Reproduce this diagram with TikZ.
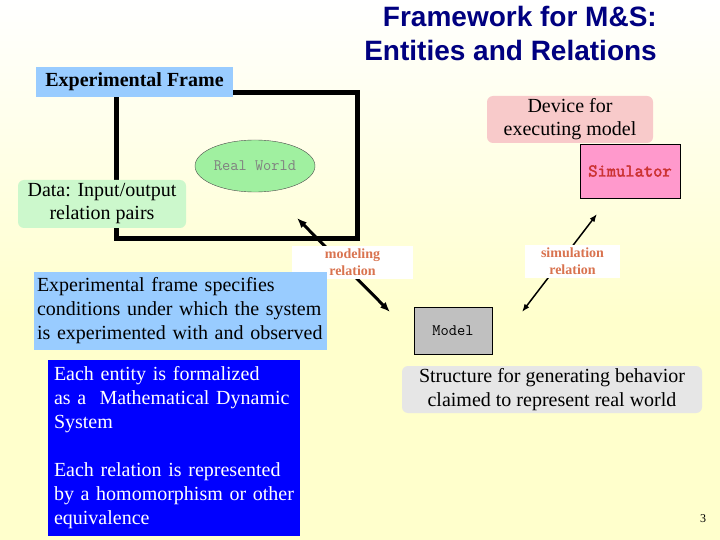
\documentclass[tikz,border=0pt]{standalone}
\usepackage{fontspec}
\setmainfont{Liberation Serif}
\newfontfamily\headfont{Liberation Sans}
\newfontfamily\codefont{Latin Modern Mono}
\newfontfamily\codeboldfont[FakeBold=2.5]{Latin Modern Mono}
\usetikzlibrary{arrows.meta, shapes.geometric}
\definecolor{title-navy}{HTML}{000080}
\definecolor{bg-yellow}{HTML}{FFFFCC}
\definecolor{ef-blue}{HTML}{99CCFF}
\definecolor{data-green}{HTML}{CCF8CC}
\definecolor{rw-green}{HTML}{A0F0A0}
\definecolor{device-pink}{HTML}{F8CACA}
\definecolor{sim-pink}{HTML}{FF99CC}
\definecolor{sim-red}{HTML}{CC3333}
\definecolor{model-gray}{HTML}{C0C0C0}
\definecolor{struct-gray}{HTML}{E6E6E6}
\definecolor{entity-blue}{HTML}{0000FF}
\definecolor{rel-text}{HTML}{D9734F}
\tikzset{
  titletxt/.style={font=\headfont\bfseries\fontsize{28}{34}\selectfont, text=title-navy, inner sep=0pt},
  callout/.style={
    rounded corners=6pt, inner sep=0pt, align=center,
    font=\fontsize{20}{23}\selectfont
  },
  panel/.style={
    inner sep=0pt, align=left, font=\fontsize{20}{24}\selectfont
  },
  codebox/.style={
    draw=black, line width=0.8pt, inner sep=0pt,
    font=\codefont\fontsize{16}{18}\selectfont
  },
  rellbl/.style={
    fill=white, inner sep=0pt, align=center, text=rel-text,
    font=\bfseries\fontsize{14}{17}\selectfont
  },
  framebox/.style={draw=black, line width=5pt},
  modarrow/.style={{Latex[length=10pt, width=8pt]}-{Latex[length=10pt, width=8pt]}, line width=3pt},
  simarrow/.style={{Latex[length=8pt, width=6pt]}-{Latex[length=8pt, width=6pt]}, line width=1.5pt}
}

\begin{document}
\begin{tikzpicture}[x=1pt, y=-1pt]

  \useasboundingbox (0,0) rectangle (720,540);

  % ---- Background ----------------------------------------------------------
  \shade[top color=white, bottom color=bg-yellow] (0,0) rectangle (720,320);
  \fill[bg-yellow] (0,320) rectangle (720,540);

  % ---- Title -----------------------------------------------------------------
  \node[titletxt, anchor=base east] (title1) at (657,27) {Framework for M\&S:};
  \node[titletxt, anchor=base east] (title2) at (657,61) {Entities and Relations};

  % ---- Experimental frame ----------------------------------------------------
  \draw[framebox] (116,93) rectangle (357,238);
  \node[fill=ef-blue, minimum width=197pt, minimum height=30pt, inner sep=0pt,
        font=\bfseries\fontsize{20}{24}\selectfont] (eflabel) at (134.5,82) {Experimental Frame};
  \node[ellipse, draw=black!70, thin, fill=rw-green, minimum width=120pt, minimum height=52pt,
        inner sep=0pt, text=black!50, font=\codefont\fontsize{16}{18}\selectfont] (realworld) at (255,166) {Real World};
  \node[callout, fill=data-green, minimum width=168pt, minimum height=48pt] (data) at (102,204)
        {Data: Input/output\\relation pairs};

  % ---- Simulator -------------------------------------------------------------
  \node[callout, fill=device-pink, minimum width=166pt, minimum height=47pt] (device) at (570,119.5)
        {Device for\\executing model};
  \node[codebox, fill=sim-pink, minimum width=100pt, minimum height=54pt, text=sim-red,
        font=\codeboldfont\fontsize{18}{20}\selectfont] (simulator) at (630,171) {Simulator};

  % ---- Relations -------------------------------------------------------------
  \coordinate (modtop) at (297,218);
  \coordinate (modbot) at (390,312);
  \coordinate (simtop) at (597,214);
  \coordinate (simbot) at (522,312);
  \draw[modarrow] (modtop) -- (modbot);
  \draw[simarrow] (simtop) -- (simbot);
  \node[rellbl, minimum width=121pt, minimum height=33pt] (modlbl) at (352.5,262.5) {modeling\\relation};
  \node[rellbl, minimum width=95pt, minimum height=33pt] (simlbl) at (572.5,261.5) {simulation\\relation};

  % ---- Model -----------------------------------------------------------------
  \node[codebox, fill=model-gray, minimum width=78pt, minimum height=47pt] (model) at (453,330.5) {Model};

  % ---- Text panels -----------------------------------------------------------
  \node[panel, fill=ef-blue, text width=287pt, inner xsep=3pt, minimum height=78pt] (efspec) at (180.5,311)
        {Experimental frame specifies\\conditions under which the system\\is experimented with and observed};
  \node[panel, fill=entity-blue, text=white, text width=240pt, inner xsep=6pt, minimum height=176pt] (entity) at (174,448)
        {Each entity is formalized\\as a~ Mathematical Dynamic\\System\\[24pt]Each relation is represented\\by a homomorphism or other\\equivalence};
  \node[callout, fill=struct-gray, minimum width=300pt, minimum height=47pt, font=\fontsize{20}{24}\selectfont] (structure) at (552,389.5)
        {Structure for generating behavior\\claimed to represent real world};

  % ---- Page number -----------------------------------------------------------
  \node[font=\fontsize{12}{14}\selectfont, inner sep=0pt] (pagenum) at (703,519) {3};

\end{tikzpicture}
\end{document}
